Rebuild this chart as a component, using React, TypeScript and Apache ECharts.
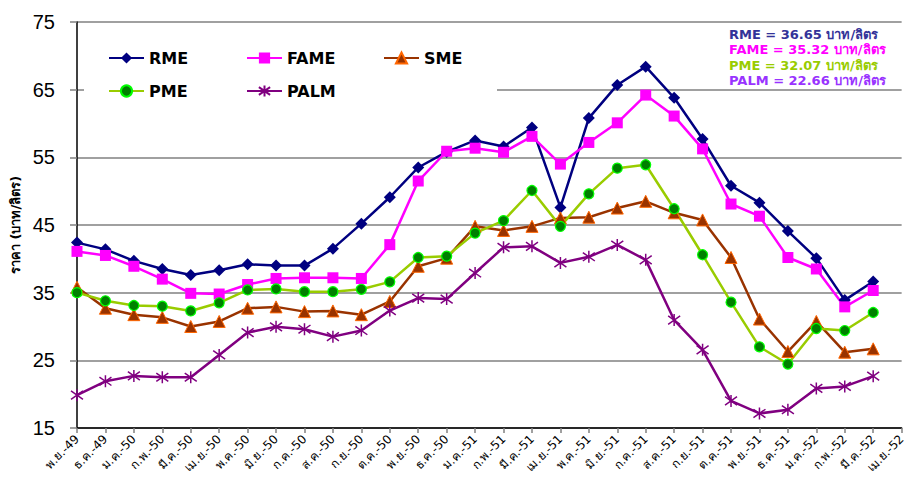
import React, { useEffect, useRef } from "react";
import * as echarts from "echarts";

const categories = [
  "พ.ย.-49", "ธ.ค.-49", "ม.ค.-50", "ก.พ.-50", "มี.ค.-50", "เม.ย.-50", "พ.ค.-50", "มิ.ย.-50",
  "ก.ค.-50", "ส.ค.-50", "ก.ย.-50", "ต.ค.-50", "พ.ย.-50", "ธ.ค.-50", "ม.ค.-51", "ก.พ.-51",
  "มี.ค.-51", "เม.ย.-51", "พ.ค.-51", "มิ.ย.-51", "ก.ค.-51", "ส.ค.-51", "ก.ย.-51", "ต.ค.-51",
  "พ.ย.-51", "ธ.ค.-51", "ม.ค.-52", "ก.พ.-52", "มี.ค.-52", "เม.ย.-52",
];

const rme = [42.4, 41.4, 39.7, 38.5, 37.6, 38.3, 39.2, 39.0, 39.0, 41.5, 45.2, 49.1, 53.5, 55.8, 57.5, 56.6, 59.4, 47.6, 60.8, 65.7, 68.4, 63.8, 57.7, 50.8, 48.3, 44.1, 40.1, 33.9, 36.65];
const fame = [41.1, 40.5, 38.9, 37.0, 34.9, 34.8, 36.2, 37.1, 37.2, 37.2, 37.1, 42.1, 51.5, 55.9, 56.35, 55.75, 58.1, 54.0, 57.2, 60.1, 64.2, 61.1, 56.25, 48.1, 46.3, 40.2, 38.5, 32.9, 35.32];
const sme = [35.8, 32.7, 31.75, 31.35, 30.0, 30.75, 32.7, 32.9, 32.2, 32.3, 31.75, 33.7, 38.9, 40.1, 44.8, 44.2, 44.8, 46.05, 46.15, 47.5, 48.5, 46.8, 45.75, 40.2, 31.1, 26.3, 30.75, 26.2, 26.7];
const pme = [35.0, 33.8, 33.1, 33.0, 32.3, 33.5, 35.4, 35.55, 35.15, 35.15, 35.5, 36.6, 40.2, 40.4, 43.8, 45.65, 50.1, 44.8, 49.6, 53.4, 53.9, 47.4, 40.6, 33.6, 27.0, 24.45, 29.7, 29.4, 32.07];
const palm = [19.85, 21.9, 22.7, 22.5, 22.5, 25.8, 29.1, 29.95, 29.6, 28.5, 29.4, 32.35, 34.2, 34.05, 37.9, 41.7, 41.85, 39.4, 40.3, 42.05, 39.85, 30.95, 26.55, 19.0, 17.15, 17.7, 20.85, 21.15, 22.66];

const yTicks = { min: 15, max: 75, interval: 10 };
const yName = "ราคา (บาท/ลิตร)";
const notes = [
  { text: "RME = 36.65 บาท/ลิตร", color: "#333399" },
  { text: "FAME = 35.32 บาท/ลิตร", color: "#FF00FF" },
  { text: "PME = 32.07 บาท/ลิตร", color: "#99CC00" },
  { text: "PALM = 22.66 บาท/ลิตร", color: "#9933FF" },
];

const ASTERISK = "path://M5,0L5,10M1,1.5L9,8.5M1,8.5L9,1.5";

export default function App() {
  const ref = useRef<HTMLDivElement>(null);
  useEffect(() => {
    if (!ref.current) return;
    const chart = echarts.init(ref.current, null, { renderer: "svg" });
    const legendFont = { fontFamily: "DejaVu Sans, Verdana, sans-serif", fontWeight: "bold" as const, fontSize: 16, color: "#000" };
    const legendPos = [
      { name: "RME", left: 108, top: 50 },
      { name: "FAME", left: 246, top: 50 },
      { name: "SME", left: 383, top: 50 },
      { name: "PME", left: 108, top: 83 },
      { name: "PALM", left: 246, top: 83 },
    ];
    chart.setOption({
      animation: false,
      backgroundColor: "#fff",
      grid: { left: 77, right: 0, top: 22, bottom: 62, containLabel: false },
      legend: legendPos.map((l) => ({
        data: [l.name],
        left: l.left,
        top: l.top,
        padding: 0,
        itemWidth: 35,
        itemHeight: 14,
        itemGap: 4,
        textStyle: legendFont,
        z: 5,
      })),
      graphic: [
        {
          type: "rect",
          z: 1,
          shape: { x: 84, y: 24, width: 413, height: 92 },
          style: { fill: "#fff" },
        },
        ...notes.map((n, i) => ({
          type: "text",
          z: 5,
          x: 729,
          y: 34 + i * 15.5,
          style: {
            text: n.text,
            fill: n.color,
            font: "bold 13px 'DejaVu Sans', Tahoma, sans-serif",
            verticalAlign: "middle",
            align: "left",
          },
        })),
      ],
      xAxis: {
        type: "category",
        data: categories,
        boundaryGap: false,
        axisLine: { lineStyle: { color: "#000", width: 1.5 } },
        axisTick: { show: true, alignWithLabel: true, length: 5, lineStyle: { color: "#808080", width: 1.5 } },
        axisLabel: {
          interval: 0,
          rotate: 45,
          fontSize: 12,
          color: "#000",
          fontFamily: "Tahoma, 'DejaVu Sans', sans-serif",
          margin: 9,
        },
        splitLine: { show: false },
      },
      yAxis: {
        type: "value",
        min: yTicks.min,
        max: yTicks.max,
        interval: yTicks.interval,
        name: yName,
        nameLocation: "middle",
        nameRotate: 90,
        nameGap: 53,
        nameTextStyle: { fontSize: 13, fontWeight: "bold", color: "#000", fontFamily: "Tahoma, 'DejaVu Sans', sans-serif" },
        axisLine: { show: true, lineStyle: { color: "#000", width: 1.5 } },
        axisTick: { show: true, inside: false, length: 7, lineStyle: { color: "#808080", width: 1.5 } },
        axisLabel: { fontSize: 20, color: "#000", fontFamily: "'Liberation Sans', Arial, sans-serif", margin: 22 },
        splitLine: { show: true, lineStyle: { color: "#808080", width: 1.5 } },
      },
      series: [
        {
          name: "RME", type: "line", data: rme, symbol: "diamond", symbolSize: 12,
          lineStyle: { color: "#000080", width: 2.5 }, itemStyle: { color: "#000080" },
        },
        {
          name: "FAME", type: "line", data: fame, symbol: "rect", symbolSize: 11,
          lineStyle: { color: "#FF00FF", width: 2.5 }, itemStyle: { color: "#FF00FF" },
        },
        {
          name: "SME", type: "line", data: sme, symbol: "triangle", symbolSize: 12,
          lineStyle: { color: "#993300", width: 2.5 }, itemStyle: { color: "#993300", borderColor: "#FF6600", borderWidth: 1 },
        },
        {
          name: "PME", type: "line", data: pme, symbol: "circle", symbolSize: 10,
          lineStyle: { color: "#99CC00", width: 2.5 }, itemStyle: { color: "#008000", borderColor: "#00FF00", borderWidth: 1.2 },
        },
        {
          name: "PALM", type: "line", data: palm, symbol: ASTERISK, symbolSize: 12,
          lineStyle: { color: "#800080", width: 2.5 }, itemStyle: { color: "#800080", borderColor: "#800080", borderWidth: 1.5 },
        },
      ],
    });
    return () => chart.dispose();
  }, []);
  return <div ref={ref} style={{ position: "fixed", left: 0, top: 0, width: 908, height: 490 }} />;
}
